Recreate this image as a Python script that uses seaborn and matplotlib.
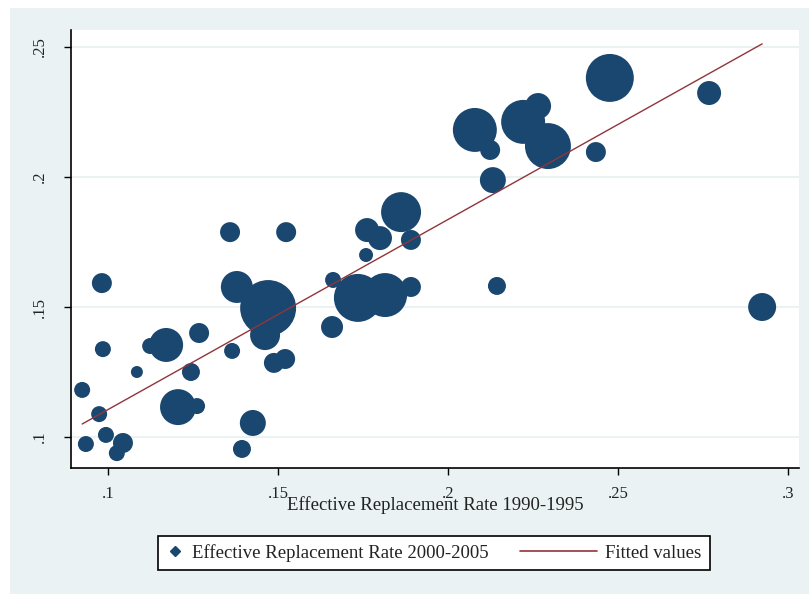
import pandas as pd
import matplotlib.pyplot as plt
import matplotlib.patches as mpatches
from matplotlib.lines import Line2D
from matplotlib.legend_handler import HandlerLine2D
import seaborn as sns

# replacement rates, one value per bubble
rate_1990_1995 = [0.0982, 0.0985, 0.0924, 0.0974, 0.0935, 0.0994, 0.1044, 0.1026,
                  0.1124, 0.1171, 0.1085, 0.1268, 0.1244, 0.1206, 0.1262, 0.1365,
                  0.1426, 0.1394, 0.1359, 0.1524, 0.1379, 0.1471, 0.1462, 0.1488,
                  0.1521, 0.1662, 0.1659, 0.1735, 0.1815, 0.1891, 0.1759, 0.1762,
                  0.1800, 0.1862, 0.1891, 0.2144, 0.2132, 0.2079, 0.2124, 0.2221,
                  0.2265, 0.2294, 0.2435, 0.2476, 0.2768, 0.2924]
rate_2000_2005 = [0.1592, 0.1338, 0.1181, 0.1088, 0.0973, 0.1008, 0.0977, 0.0938,
                  0.1350, 0.1354, 0.1250, 0.1400, 0.1250, 0.1115, 0.1119, 0.1331,
                  0.1054, 0.0954, 0.1788, 0.1788, 0.1577, 0.1496, 0.1392, 0.1285,
                  0.1300, 0.1604, 0.1423, 0.1535, 0.1546, 0.1577, 0.1700, 0.1796,
                  0.1765, 0.1865, 0.1758, 0.1581, 0.1988, 0.2181, 0.2104, 0.2212,
                  0.2273, 0.2119, 0.2096, 0.2381, 0.2323, 0.1500]
# analytic weights (bubble area)
weight = [100, 64, 64, 64, 64, 64, 100, 64,
          64, 289, 36, 100, 81, 324, 64, 64,
          169, 81, 100, 100, 256, 784, 225, 100,
          100, 64, 121, 576, 484, 100, 49, 144,
          144, 400, 100, 81, 169, 484, 100, 484,
          169, 529, 100, 576, 144, 196]

# fitted values at the ends of the line
fit_x = [0.0924, 0.2924]
fit_y = [0.1050, 0.2512]

x_ticks = [0.1, 0.15, 0.2, 0.25, 0.3]
x_tick_labels = ['.1', '.15', '.2', '.25', '.3']
y_ticks = [0.1, 0.15, 0.2, 0.25]
y_tick_labels = ['.1', '.15', '.2', '.25']

df = pd.DataFrame({'x': rate_1990_1995, 'y': rate_2000_2005, 'w': weight})

navy = '#1a476f'
maroon = '#90353b'
panel = '#eaf2f3'
ink = '#222222'


class LongLine(HandlerLine2D):
    # legend line that reaches back to the left of its handle box
    def create_artists(self, legend, orig_handle, xdescent, ydescent,
                       width, height, fontsize, trans):
        y0 = height / 2 - ydescent
        line = Line2D([-xdescent - 43, -xdescent + width], [y0, y0],
                      color=orig_handle.get_color(),
                      linewidth=orig_handle.get_linewidth())
        line.set_transform(trans)
        return [line]


sns.set_style('white')
plt.rcParams['font.family'] = ['Liberation Serif', 'DejaVu Serif']

fig = plt.figure(figsize=(8.09, 5.94), dpi=100)
fig.patch.set_facecolor('white')
fig.patches.append(mpatches.Rectangle((10 / 809, 0), 1, 1 - 8 / 594,
                                      transform=fig.transFigure,
                                      facecolor=panel, edgecolor='none', zorder=-5))

ax = fig.add_axes([71 / 809, 1 - 468 / 594, 728 / 809, 438 / 594])
ax.set_facecolor('white')

wmax = max(weight)
sns.scatterplot(data=df, x='x', y='y', size='w', sizes=(0, 2.07 * wmax),
                size_norm=(0, wmax), color=navy, linewidth=0, alpha=1,
                legend=False, ax=ax, zorder=3)
sns.lineplot(x=fit_x, y=fit_y, color=maroon, linewidth=1.0, ax=ax, zorder=4)

ax.set_xlim(0.08912, 0.30324)
ax.set_ylim(0.08808, 0.25654)
ax.set_xticks(x_ticks)
ax.set_xticklabels(x_tick_labels)
ax.set_yticks(y_ticks)
ax.set_yticklabels(y_tick_labels, rotation=90, va='center')
ax.tick_params(axis='both', direction='out', length=5, width=1, color='black',
               labelsize=12, labelcolor=ink, left=True, bottom=True)
ax.tick_params(axis='x', pad=8)
ax.tick_params(axis='y', pad=12)

for side in ['top', 'right']:
    ax.spines[side].set_visible(False)
for side in ['left', 'bottom']:
    ax.spines[side].set_color('black')
    ax.spines[side].set_linewidth(1.2)

ax.grid(axis='y', color=panel, linewidth=1.5, zorder=0)
ax.grid(axis='x', visible=False)
ax.set_axisbelow(True)

ax.set_xlabel('Effective Replacement Rate 1990-1995', fontsize=13.5,
              color=ink, labelpad=-4)
ax.set_ylabel('')

dot = Line2D([], [], linestyle='none', marker='D', markersize=5, color=navy)
fit = Line2D([], [], color=maroon, linewidth=1.2)
leg = fig.legend([dot, fit], ['Effective Replacement Rate 2000-2005', 'Fitted values'],
                 loc='center', ncol=2, bbox_to_anchor=(434 / 809, 1 - 553 / 594),
                 fontsize=13.5, frameon=True, fancybox=False, edgecolor='black',
                 framealpha=1, handlelength=0.9, handletextpad=0.45,
                 columnspacing=4.85, borderpad=0.45,
                 handler_map={fit: LongLine()})
leg.get_frame().set_linewidth(1.2)
for t in leg.get_texts():
    t.set_color(ink)

plt.savefig('out.png', dpi=100)
